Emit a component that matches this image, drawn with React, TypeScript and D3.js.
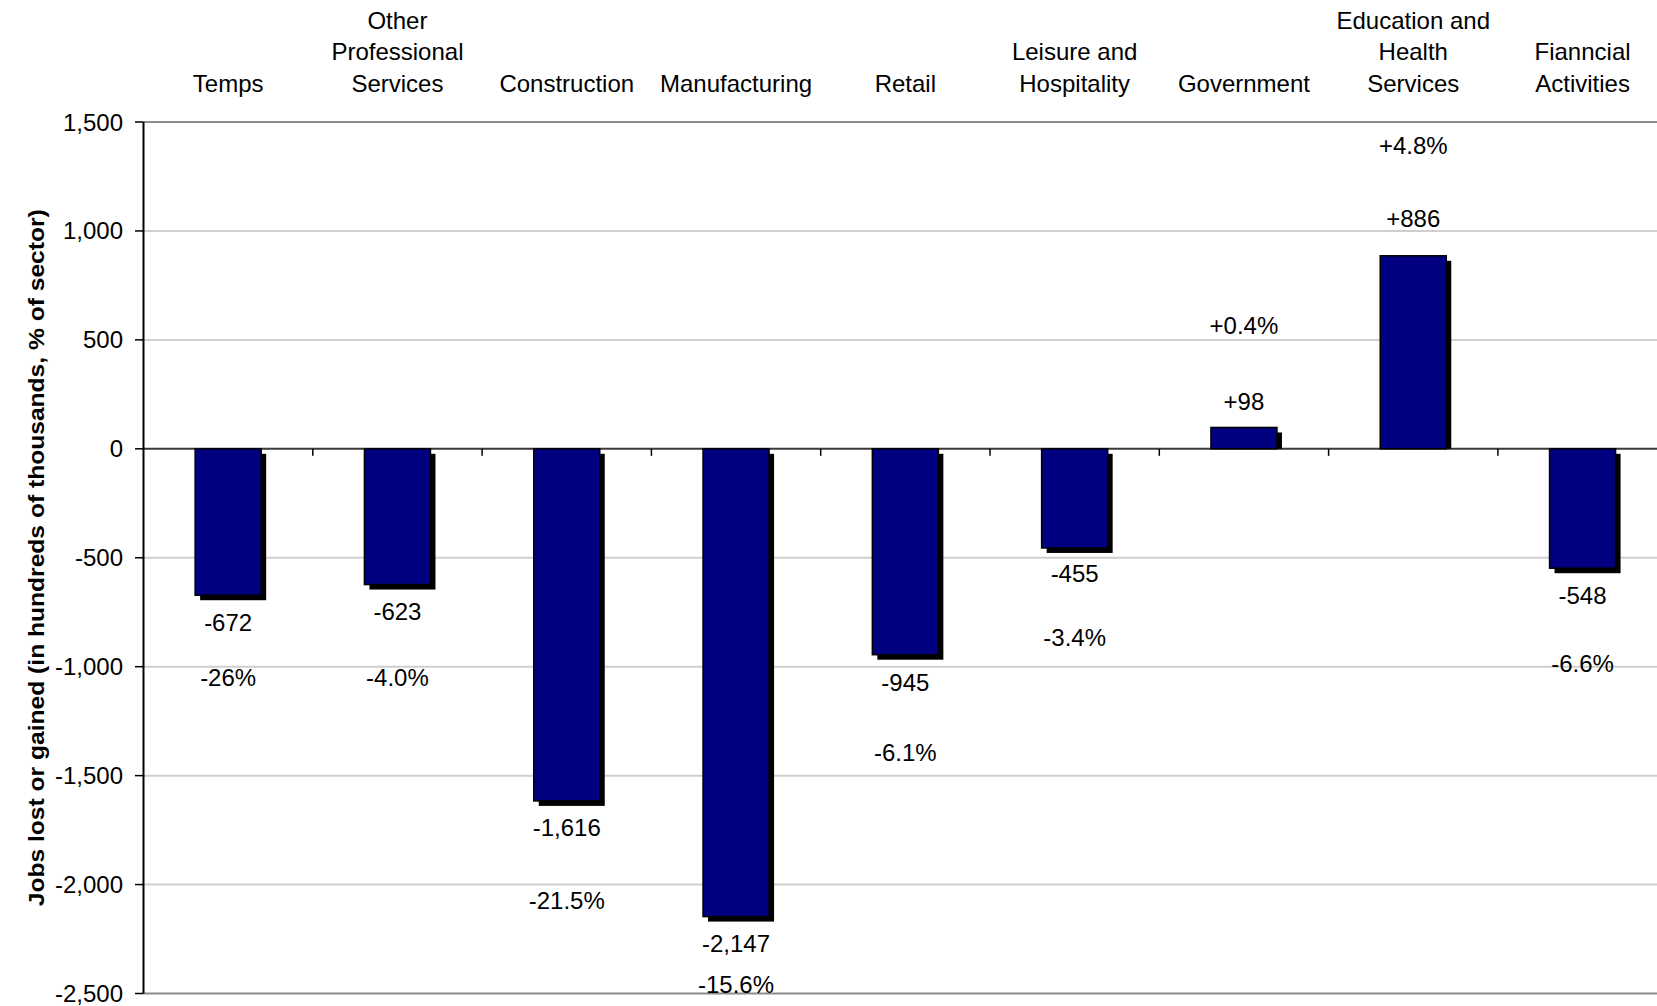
import React from "react";
import * as d3 from "d3";

const categories: string[][] = [
  ["Temps"],
  ["Other", "Professional", "Services"],
  ["Construction"],
  ["Manufacturing"],
  ["Retail"],
  ["Leisure and", "Hospitality"],
  ["Government"],
  ["Education and", "Health", "Services"],
  ["Fianncial", "Activities"],
];
const jobValues: number[] = [-672, -623, -1616, -2147, -945, -455, 98, 886, -548];
const pctLabels: string[] = ["-26%", "-4.0%", "-21.5%", "-15.6%", "-6.1%", "-3.4%", "+0.4%", "+4.8%", "-6.6%"];
// anchor of each label, in axis units
const valueLabelAt: number[] = [-797, -746, -1737, -2270, -1072, -571, 216, 1059, -671];
const pctLabelAt: number[] = [-1050, -1050, -2075, -2460, -1393, -865, 568, 1394, -985];
const yTicks: number[] = [1500, 1000, 500, 0, -500, -1000, -1500, -2000, -2500];

const W = 1657;
const H = 1006;
const left = 143.5;
const bandW = 169.3;
const top = 122;
const bottom = 993.5;
const FONT = "'Liberation Sans', Arial, sans-serif";

export default function App() {
  const idx = categories.map((_, i) => i);
  const x = d3
    .scaleBand<number>()
    .domain(idx)
    .range([left, left + bandW * categories.length])
    .paddingInner(0.61)
    .paddingOuter(0.305);
  const y = d3.scaleLinear().domain([1500, -2500]).range([top, bottom]);
  const fmt = d3.format(",");
  const signed = (v: number) => (v > 0 ? "+" + fmt(v) : fmt(v).replace("−", "-"));
  const center = (i: number) => left + bandW * (i + 0.5);
  const y0 = y(0);
  const shadow = 5;
  const lineH = 31.7;

  return (
    <svg
      width={W}
      height={H}
      style={{ position: "fixed", left: 0, top: 0, background: "#fff" }}
      fontFamily={FONT}
    >
      <rect x={0} y={0} width={W} height={H} fill="#fff" />
      {/* gridlines */}
      {yTicks.map((t) => (
        <line
          key={"g" + t}
          x1={left}
          x2={left + bandW * categories.length}
          y1={y(t)}
          y2={y(t)}
          stroke={t === 1500 || t === -2500 ? "#8c8c8c" : t === 0 ? "#3a3a3a" : "#cfcfcf"}
          strokeWidth={t === 1500 || t === -2500 || t === 0 ? 2 : 2}
        />
      ))}
      {/* y ticks and labels */}
      {yTicks.map((t) => (
        <g key={"t" + t}>
          <line x1={135} x2={left} y1={y(t)} y2={y(t)} stroke="#000" strokeWidth={1.5} />
          <text
            x={123}
            y={y(t)}
            textAnchor="end"
            dominantBaseline="central"
            fontSize={24}
            fill="#000"
          >
            {fmt(t).replace("−", "-")}
          </text>
        </g>
      ))}
      {/* category ticks */}
      {d3.range(1, categories.length).map((i) => (
        <line
          key={"c" + i}
          x1={left + bandW * i}
          x2={left + bandW * i}
          y1={y0}
          y2={y0 + 7}
          stroke="#000"
          strokeWidth={1.5}
        />
      ))}
      {/* bars */}
      {jobValues.map((v, i) => {
        const bx = x(i)!;
        const bw = x.bandwidth();
        const by = Math.min(y(v), y0);
        const bh = Math.abs(y(v) - y0);
        return (
          <g key={"b" + i}>
            <rect
              x={bx + shadow}
              y={by + shadow}
              width={bw}
              height={v > 0 ? bh - shadow : bh}
              fill="#000"
            />
            <rect x={bx} y={by} width={bw} height={bh} fill="#000080" stroke="#000" strokeWidth={1.5} />
          </g>
        );
      })}
      {/* y axis */}
      <line x1={left} x2={left} y1={top} y2={bottom} stroke="#000" strokeWidth={2} />
      {/* value labels */}
      {jobValues.map((v, i) => (
        <text
          key={"v" + i}
          x={center(i)}
          y={y(valueLabelAt[i])}
          textAnchor="middle"
          dominantBaseline="central"
          fontSize={24}
          fill="#000"
        >
          {signed(v)}
        </text>
      ))}
      {pctLabels.map((p, i) => (
        <text
          key={"p" + i}
          x={center(i)}
          y={y(pctLabelAt[i])}
          textAnchor="middle"
          dominantBaseline="central"
          fontSize={24}
          fill="#000"
        >
          {p}
        </text>
      ))}
      {/* category labels */}
      {categories.map((lines, i) => (
        <text key={"n" + i} textAnchor="middle" fontSize={24} fill="#000">
          {lines.map((l, j) => (
            <tspan
              key={j}
              x={center(i)}
              y={83.5 - (lines.length - 1 - j) * lineH}
              dominantBaseline="central"
            >
              {l}
            </tspan>
          ))}
        </text>
      ))}
      {/* y axis title */}
      <text
        transform={`translate(36, ${(top + bottom) / 2}) rotate(-90)`}
        textAnchor="middle"
        dominantBaseline="central"
        fontSize={22}
        fontWeight="bold"
        fill="#000"
        textLength={697}
        lengthAdjust="spacingAndGlyphs"
      >
        Jobs lost or gained (in hundreds of thousands, % of sector)
      </text>
    </svg>
  );
}
